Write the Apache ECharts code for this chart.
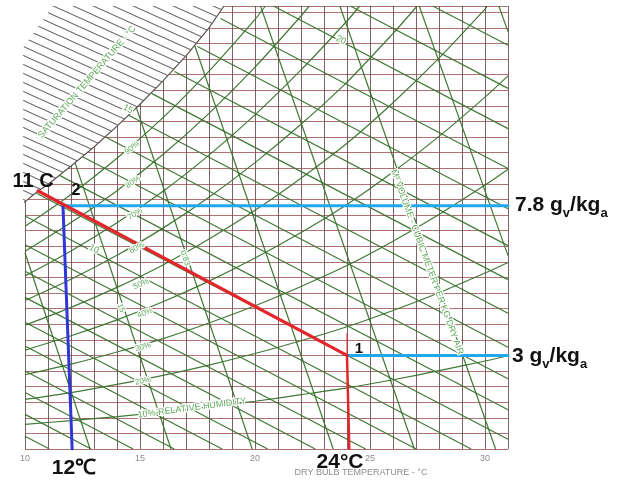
<!DOCTYPE html>
<html><head><meta charset="utf-8">
<script src="https://cdn.jsdelivr.net/npm/echarts@6/dist/echarts.min.js"></script>
<style>html,body{margin:0;padding:0;background:#fff}#c{width:617px;height:485px}</style>
</head><body><div id="c"></div>
<script>
// ---- data ----
const tempTicks = [10, 15, 20, 25, 30];           // dry bulb °C labels
const satCurve = [[9.92,7.88],[10.57,8.27],[11,8.48],[12,9.07],[13,9.68],[14,10.35],[15,11.05],[16,11.8],[17,12.6],[18,13.5],[18.65,14.2]];
const hatchCorner = [[9.92,12.88],[11.22,14.2]];
// wet bulb (saturation temperature) lines: [T1,w1,T2,w2]
const wetBulbLines = [
  [10,0.41,11.06,0],[10,1.11,12.88,0],[10,1.81,14.70,0],[10,2.50,16.49,0],[10,3.30,18.57,0],
  [10,4.06,20.55,0],[10,4.86,22.62,0],[10,5.70,24.81,0],[10,6.55,27.01,0],[10,7.47,29.40,0],
  [10.5,8.2,31,0.31],[11.5,8.77,31,1.26],[12.5,9.37,31,2.25],[13.5,10.0,31,3.26],[14.5,10.7,31,4.35],
  [15.5,11.4,31,5.43],[16.5,12.1,31,6.52],[17.5,12.9,31,7.70],[18.5,13.8,31,8.99],
  [20.8,14.2,31,10.27],[24.14,14.2,31,11.56],[27.73,14.2,31,12.94]
];
// specific volume lines 0.81 ... 0.88 m3/kg
const volumeLines = [
  [10,6.29,12.83,0],[9.89,14.2,16.35,0],[13.34,14.2,19.88,0],[16.79,14.2,23.4,0],
  [20.24,14.2,26.93,0],[23.69,14.2,30.46,0],[27.14,14.2,31,6.2],[30.6,14.2,31,13.38]
];
// relative humidity curves
const rh90 = [[10,7.14],[12,8.16],[14,9.32],[16,10.62],[18,12.11],[20,13.77],[20.45,14.2]];
const rh80 = [[10,6.34],[12,7.26],[14,8.28],[16,9.44],[18,10.76],[20,12.24],[22,13.88],[22.36,14.2]];
const rh70 = [[10,5.55],[12,6.35],[14,7.25],[16,8.26],[18,9.42],[20,10.71],[22,12.15],[24,13.72],[24.55,14.2]];
const rh60 = [[10,4.76],[12,5.44],[14,6.21],[16,7.08],[18,8.07],[20,9.18],[22,10.41],[24,11.76],[26,13.32],[27.05,14.2]];
const rh50 = [[10,3.97],[12,4.54],[14,5.18],[16,5.9],[18,6.73],[20,7.65],[22,8.68],[24,9.8],[26,11.1],[28,12.53],[30,14.1],[30.1,14.2]];
const rh40 = [[10,3.17],[12,3.63],[14,4.14],[16,4.72],[18,5.38],[20,6.12],[22,6.94],[24,7.84],[26,8.88],[28,10.02],[30,11.28],[31,11.96]];
const rh30 = [[10,2.38],[12,2.72],[14,3.11],[16,3.54],[18,4.04],[20,4.59],[22,5.21],[24,5.88],[26,6.66],[28,7.52],[30,8.46],[31,8.97]];
const rh20 = [[10,1.59],[12,1.81],[14,2.07],[16,2.36],[18,2.69],[20,3.06],[22,3.47],[24,3.92],[26,4.44],[28,5.01],[30,5.64],[31,5.98]];
const rh10 = [[10,0.79],[12,0.91],[14,1.04],[16,1.18],[18,1.35],[20,1.53],[22,1.74],[24,1.96],[26,2.22],[28,2.51],[30,2.82],[31,2.99]];
// process
const processRed = [[10.57,8.27],[24,3.0]];
const redDrop = [[24,3.0],[24.1,0]];
const redTick = [[24,3.0],[24,3.7]];
const blueDrop = [[11.65,7.8],[12.05,0]];
const cyanHigh = [[11.65,7.8],[31,7.8]];
const cyanLow = [[24,3.0],[31,3.0]];

// ---- chart ----
const GREEN = '#36722b';
const LBL = '#5ea85a';
const FONT = '"Liberation Sans", Arial, sans-serif';

const pc = document.createElement('canvas');
pc.width = 20; pc.height = 9;
(function(){ const g = pc.getContext('2d'); g.fillStyle = '#fff'; g.fillRect(0,0,20,9);
  g.strokeStyle = '#626262'; g.lineWidth = 1.1;
  for (let k = -1; k <= 1; k++) { g.beginPath(); g.moveTo(0, k*9); g.lineTo(20, 9 + k*9); g.stroke(); } })();

const hatchPoly = [hatchCorner[0], hatchCorner[1]].concat(satCurve.slice().reverse());
const cornerPoly = [[9.85, hatchCorner[0][1]], [9.85, 14.4], [hatchCorner[1][0], 14.4], hatchCorner[1], hatchCorner[0]];

function segs(arr){ return arr.map(a => ({coords: [[a[0],a[1]],[a[2],a[3]]]})); }
function rhSeries(d){ return {type:'line', data:d, smooth:0.3, showSymbol:false, silent:true, z:3,
  lineStyle:{color:GREEN, width:1.2, opacity:0.95}}; }
function proc(d, color, w, z){ return {type:'line', data:d, showSymbol:false, silent:true, z:z||10,
  lineStyle:{color:color, width:w, cap:'round'}}; }
function polySeries(pts, fill, z){ return {type:'custom', coordinateSystem:'cartesian2d', data:[0], silent:true, z:z,
  renderItem:(p, api) => ({type:'polygon', shape:{points: pts.map(q => api.coord(q))}, style:{fill:fill, stroke:null}})}; }

function t(text, x, y, opt){ opt = opt || {};
  const st = {text:text, fill:opt.fill||'#111', font:opt.font||('bold 16px '+FONT), align:opt.align||'center', verticalAlign:'middle',
      rich: opt.rich};
  if (opt.halo) { st.stroke = '#ffffff'; st.lineWidth = 2.5; }
  return {type:'text', x:x, y:y, rotation:opt.rot||0, z:30, silent:true, style:st}; }
function g(text, x, y, rot, size){ return t(text, x, y, {rot:rot, fill:LBL, font:(size||8)+'px '+FONT, halo:true}); }

function unitRich(sz){ return {
  m:{font:'bold '+sz+'px '+FONT, fill:'#111', verticalAlign:'bottom', padding:[0,0,4,0]},
  s:{font:'bold '+Math.round(sz*0.62)+'px '+FONT, fill:'#111', verticalAlign:'bottom'} }; }

const chart = echarts.init(document.getElementById('c'), null, {renderer:'canvas'});
chart.setOption({
  animation:false,
  backgroundColor:'#fff',
  grid:{left:25, right:109, top:6, bottom:36},
  xAxis:{type:'value', min:10, max:31, interval:1,
    axisLine:{show:false}, axisTick:{show:false},
    axisLabel:{interval:0, formatter:v => tempTicks.includes(v) ? String(v) : '', color:'#8c8c8c', fontSize:9, margin:5, fontFamily:FONT},
    splitLine:{show:true, lineStyle:{color:'#6a5252', width:1, opacity:0.9}}},
  yAxis:{type:'value', min:0, max:14.2, interval:0.5,
    axisLine:{show:false}, axisTick:{show:false}, axisLabel:{show:false},
    splitLine:{show:true, lineStyle:{color:'#a2585e', width:1, opacity:0.85}}},
  series:[
    {type:'lines', coordinateSystem:'cartesian2d', data:segs(wetBulbLines), silent:true, z:3,
      lineStyle:{color:GREEN, width:1.2, opacity:0.95}},
    {type:'lines', coordinateSystem:'cartesian2d', data:segs(volumeLines), silent:true, z:3,
      lineStyle:{color:GREEN, width:1.2, opacity:0.95}},
    rhSeries(rh90), rhSeries(rh80), rhSeries(rh70), rhSeries(rh60), rhSeries(rh50),
    rhSeries(rh40), rhSeries(rh30), rhSeries(rh20), rhSeries(rh10),
    polySeries(hatchPoly, {image:pc, repeat:'repeat'}, 5),
    {type:'line', data:satCurve, showSymbol:false, silent:true, z:6, lineStyle:{color:'#5e544e', width:1.2}},
    polySeries(cornerPoly, '#ffffff', 7),
    proc(cyanHigh, '#21a7ee', 3),
    proc(cyanLow, '#21a7ee', 3),
    proc(redTick, '#e3262b', 1, 11),
    proc(redDrop, '#e3262b', 2.5, 11),
    proc(blueDrop, '#2f37d4', 3, 12),
    proc(processRed, '#e3262b', 3.2, 13)
  ],
  graphic:[
    t('11 C', 33, 181, {font:'bold 20px '+FONT}),
    t('2', 76, 191, {font:'bold 16px '+FONT}),
    t('1', 359, 349, {font:'bold 15px '+FONT}),
    t('{m|7.8 g}{s|v}{m|/kg}{s|a}', 515, 207, {align:'left', rich:unitRich(21)}),
    t('{m|3 g}{s|v}{m|/kg}{s|a}', 512, 358, {align:'left', rich:unitRich(21)}),
    t('12℃', 74, 468, {font:'bold 21px '+FONT}),
    t('24°C', 340, 462, {font:'bold 21px '+FONT}),
    t('DRY BULB TEMPERATURE - °C', 361, 473, {fill:'#8c8c8c', font:'9px '+FONT}),
    g('SATURATION TEMPERATURE - °C', 87, 82, 0.86, 9),
    g('15', 128, 109, -0.48, 9),
    g('10', 94, 249, -0.48, 9),
    g('20', 341, 40, -0.48, 9),
    g('90%', 132, 148, 0.7, 8),
    g('80%', 133, 182, 0.62, 8),
    g('70%', 135, 214, 0.56, 8),
    g('60%', 137, 248, 0.48, 8),
    g('50%', 141, 284, 0.42, 8),
    g('15', 121, 308, -1.2, 8),
    g('40%', 145, 313, 0.36, 8),
    g('30%', 143, 347, 0.28, 8),
    g('20%', 143, 381, 0.2, 8),
    g('10% RELATIVE HUMIDITY', 192, 408, 0.13, 9),
    g('0.83', 185, 258, -1.22, 8),
    g('M³ VOLUME - CUBIC METER PER KG DRY AIR', 427, 262, -1.22, 9)
  ]
});
</script></body></html>
